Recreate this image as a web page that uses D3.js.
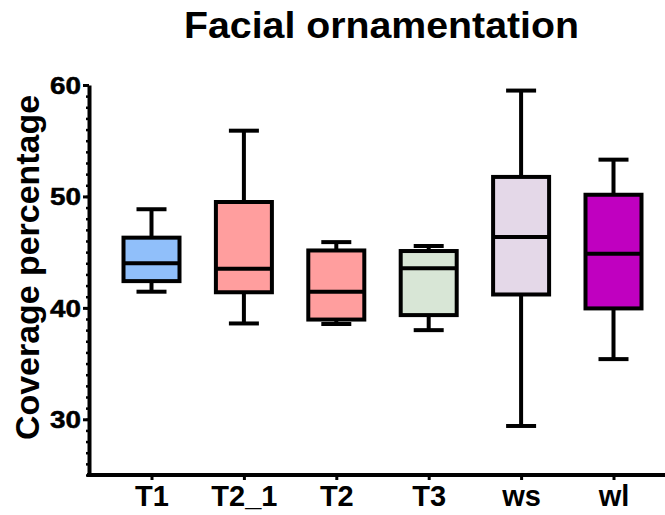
<!DOCTYPE html>
<html>
<head>
<meta charset="utf-8">
<script src="https://cdn.jsdelivr.net/npm/d3@7"></script>
<style>
  body { margin: 0; background: white; }
  text { font-family: "Liberation Sans", Arial, sans-serif; font-weight: bold; }
</style>
</head>
<body>
<div id="chart"></div>
<script>
// values
var groups  = ["T1", "T2_1", "T2", "T3", "ws", "wl"];
var mins    = [41.45, 38.6, 38.55, 38.0, 29.4, 35.4];
var q1s     = [42.4, 41.4, 38.95, 39.35, 41.2, 39.95];
var medians = [44.0, 43.5, 41.45, 43.55, 46.35, 44.85];
var q3s     = [46.3, 49.5, 45.15, 45.1, 51.75, 50.15];
var maxs    = [48.85, 55.9, 45.9, 45.55, 59.5, 53.3];
var yTicks  = [30, 40, 50, 60];

var fills = ["#90bffa", "#ff9e9e", "#ff9e9e", "#d8e6d6", "#e4d8e8", "#c000c0"];

var width = 665, height = 515;

var svg = d3.select("#chart").append("svg")
    .attr("width", width)
    .attr("height", height)
    .style("background-color", "white");

var x = d3.scalePoint().domain(groups).range([151.5, 613.5]);
var y = d3.scaleLinear().domain([25, 60]).range([475, 85]);

var boxes = groups.map(function(g, i) {
    return { name: g, min: mins[i], q1: q1s[i], med: medians[i], q3: q3s[i], max: maxs[i], fill: fills[i] };
});

// title
svg.append("text")
    .attr("x", 184)
    .attr("y", 38)
    .attr("font-size", 36)
    .attr("textLength", 395)
    .attr("lengthAdjust", "spacingAndGlyphs")
    .text("Facial ornamentation");

// y axis label
svg.append("text")
    .attr("transform", "translate(39," + 267.5 + ") rotate(-90)")
    .attr("text-anchor", "middle")
    .attr("font-size", 33.5)
    .attr("textLength", 345)
    .attr("lengthAdjust", "spacingAndGlyphs")
    .text("Coverage percentage");

// minor ticks on y
var yMinor = d3.axisLeft(y).ticks(35).tickSize(3).tickFormat("");
svg.append("g")
    .attr("transform", "translate(89,0)")
    .call(yMinor)
    .call(function(g) {
        g.select(".domain").remove();
        g.selectAll("line").attr("stroke-width", 2.5);
    });

// y axis
var yAxis = d3.axisLeft(y).tickValues(yTicks).tickSize(6).tickSizeOuter(0).tickPadding(2);
svg.append("g")
    .attr("transform", "translate(89,0)")
    .call(yAxis)
    .call(function(g) {
        g.select(".domain").attr("stroke-width", 4);
        g.selectAll(".tick line").attr("stroke-width", 3);
        g.selectAll(".tick text")
            .attr("font-size", 24)
            .attr("dy", "0.35em")
            .attr("textLength", 31)
            .attr("lengthAdjust", "spacingAndGlyphs")
            .attr("fill", "black")
            .attr("stroke", "black")
            .attr("stroke-width", 0.5);
    });

// x axis
var xAxis = d3.axisBottom(x).tickSize(5).tickSizeOuter(0).tickPadding(6);
svg.append("g")
    .attr("transform", "translate(0," + y(25) + ")")
    .call(xAxis)
    .call(function(g) {
        g.select(".domain").attr("d", "M87,0H665").attr("stroke-width", 4);
        g.selectAll(".tick line").attr("stroke-width", 3);
        g.selectAll(".tick text")
            .attr("font-size", 29)
            .attr("dy", "0.68em")
            .attr("fill", "black");
    });

var boxW = 56, capW = 30;

var box = svg.selectAll("g.box")
    .data(boxes)
    .enter()
    .append("g")
    .attr("class", "box");

// whisker
box.append("line")
    .attr("x1", function(d) { return x(d.name); })
    .attr("x2", function(d) { return x(d.name); })
    .attr("y1", function(d) { return y(d.min); })
    .attr("y2", function(d) { return y(d.max); })
    .attr("stroke", "black")
    .attr("stroke-width", 4);

// caps
box.selectAll("line.cap")
    .data(function(d) { return [{ c: d.name, v: d.min }, { c: d.name, v: d.max }]; })
    .enter()
    .append("line")
    .attr("class", "cap")
    .attr("x1", function(d) { return x(d.c) - capW / 2; })
    .attr("x2", function(d) { return x(d.c) + capW / 2; })
    .attr("y1", function(d) { return y(d.v); })
    .attr("y2", function(d) { return y(d.v); })
    .attr("stroke", "black")
    .attr("stroke-width", 4);

box.append("rect")
    .attr("x", function(d) { return x(d.name) - boxW / 2; })
    .attr("width", boxW)
    .attr("y", function(d) { return y(d.q3); })
    .attr("height", function(d) { return y(d.q1) - y(d.q3); })
    .attr("fill", function(d) { return d.fill; })
    .attr("stroke", "black")
    .attr("stroke-width", 4);

box.append("line")
    .attr("x1", function(d) { return x(d.name) - boxW / 2; })
    .attr("x2", function(d) { return x(d.name) + boxW / 2; })
    .attr("y1", function(d) { return y(d.med); })
    .attr("y2", function(d) { return y(d.med); })
    .attr("stroke", "black")
    .attr("stroke-width", 4);
</script>
</body>
</html>
